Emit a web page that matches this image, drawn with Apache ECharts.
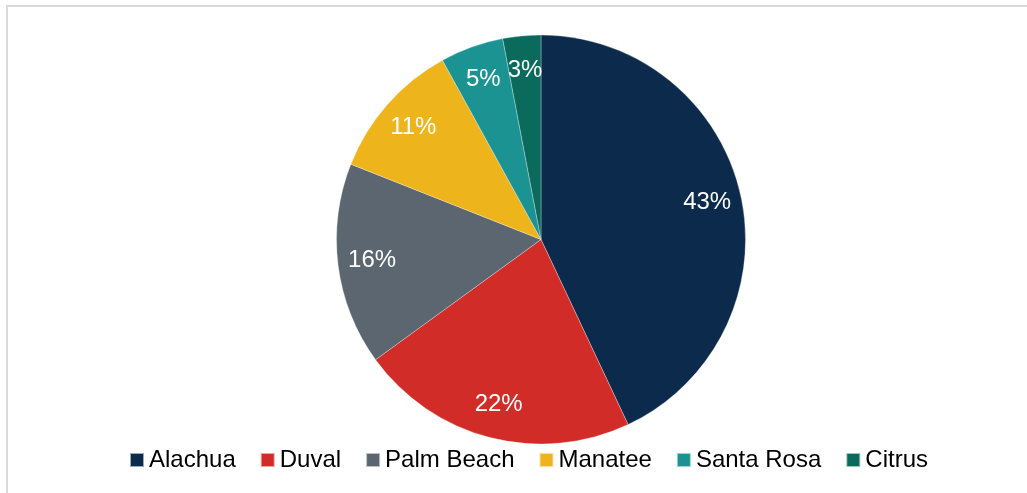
<!DOCTYPE html>
<html>
<head>
<meta charset="utf-8">
<script src="https://cdn.jsdelivr.net/npm/echarts@6/dist/echarts.min.js"></script>
<style>
html,body{margin:0;padding:0;background:#fff;}
#frame{position:absolute;left:6px;top:5px;width:1021px;height:488px;border-top:2px solid #d9d9d9;border-left:2px solid #d9d9d9;box-sizing:border-box;}
#chart{position:absolute;left:0;top:0;width:1027px;height:493px;}
</style>
</head>
<body>
<div id="frame"></div>
<div id="chart"></div>
<script>
const categories = ['Alachua', 'Duval', 'Palm Beach', 'Manatee', 'Santa Rosa', 'Citrus'];
const values = [43, 22, 16, 11, 5, 3];
const colors = ['#0c2a4b', '#d12c27', '#5b6670', '#eeb41c', '#1b9393', '#0a6b5c'];

const data = categories.map((c, i) => ({ name: c, value: values[i], itemStyle: { color: colors[i] } }));
const chart = echarts.init(document.getElementById('chart'), null, { renderer: 'canvas' });
chart.setOption({
  animation: false,
  legend: {
    left: 129,
    top: 448,
    padding: 0,
    itemWidth: 14,
    itemHeight: 14,
    itemGap: 24,
    icon: 'rect',
    textStyle: { fontFamily: 'Liberation Sans, Arial, sans-serif', fontSize: 24, color: '#000' },
    data: categories
  },
  series: [
    {
      type: 'pie',
      center: [541, 239.5],
      radius: [0, 204.5],
      startAngle: 90,
      clockwise: true,
      silent: true,
      label: { show: false },
      labelLine: { show: false },
      itemStyle: { borderColor: 'rgba(255,255,255,0.6)', borderWidth: 0.5 },
      data: data
    },
    {
      type: 'pie',
      center: [541, 239.5],
      radius: [130, 204.5],
      startAngle: 90,
      clockwise: true,
      silent: true,
      legendHoverLink: false,
      itemStyle: { color: 'rgba(0,0,0,0)' },
      label: {
        show: true,
        position: 'inside',
        formatter: '{c}%',
        color: '#fff',
        fontFamily: 'Liberation Sans, Arial, sans-serif',
        fontSize: 24
      },
      labelLine: { show: false },
      data: categories.map((c, i) => ({ name: c + ' ', value: values[i] }))
    }
  ]
});
</script>
</body>
</html>
